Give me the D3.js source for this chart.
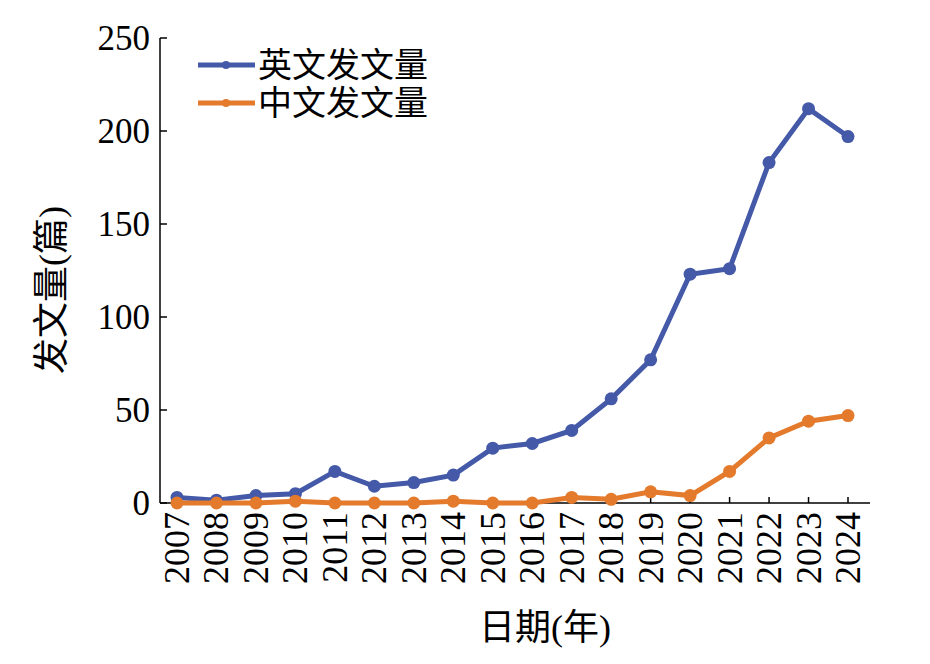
<!DOCTYPE html>
<html><head><meta charset="utf-8">
<script src="https://cdn.jsdelivr.net/npm/d3@7"></script>
<style>body{margin:0;background:#fff}</style>
</head><body>
<svg id="chart" width="930" height="664"></svg>
<script>
"use strict";

const years = [2007,2008,2009,2010,2011,2012,2013,2014,2015,2016,2017,2018,2019,2020,2021,2022,2023,2024];
const english = [3,1.5,4,5,17,9,11,15,29.5,32,39,56,77,123,126,183,212,197];
const chinese = [0,0,0,1,0,0,0,1,0,0,3,2,6,4,17,35,44,47];
const yTicks = [0,50,100,150,200,250];

const serif = "'Liberation Serif','Noto Sans CJK SC',serif";
const blue = "#4459a7";
const orange = "#e47a2c";

const svg = d3.select("#chart");

const x = d3.scaleLinear().domain([2007, 2024]).range([177, 848]);
const y = d3.scaleLinear().domain([0, 250]).range([503, 38]);

// axes
svg.append("line").attr("x1", 160).attr("x2", 160).attr("y1", 38).attr("y2", 503)
    .attr("stroke", "#000").attr("stroke-width", 1.5);
svg.append("line").attr("x1", 160).attr("x2", 870).attr("y1", 503).attr("y2", 503)
    .attr("stroke", "#000").attr("stroke-width", 1.5);

svg.selectAll(".yt").data(yTicks).enter().append("line")
    .attr("x1", 160).attr("x2", 167)
    .attr("y1", d => y(d)).attr("y2", d => y(d))
    .attr("stroke", "#000").attr("stroke-width", 1.5);
svg.selectAll(".yl").data(yTicks).enter().append("text")
    .attr("x", 150).attr("y", d => y(d)).attr("dy", "0.35em")
    .attr("text-anchor", "end").attr("font-family", serif).attr("font-size", 35)
    .text(d => d);

svg.selectAll(".xt").data(years).enter().append("line")
    .attr("x1", d => x(d)).attr("x2", d => x(d))
    .attr("y1", 503).attr("y2", 497)
    .attr("stroke", "#000").attr("stroke-width", 1.5);
svg.selectAll(".xl").data(years).enter().append("text")
    .attr("transform", d => `translate(${x(d) + 12},512) rotate(-90)`)
    .attr("text-anchor", "end").attr("font-family", serif).attr("font-size", 36)
    .text(d => d);

svg.append("text").attr("x", 545).attr("y", 640).attr("text-anchor", "middle")
    .attr("font-family", serif).attr("font-size", 36).text("日期(年)");
svg.append("text").attr("transform", "translate(64,290) rotate(-90)")
    .attr("text-anchor", "middle").attr("font-family", serif).attr("font-size", 36)
    .text("发文量(篇)");

function series(vals, color) {
    const line = d3.line().x((d, i) => x(years[i])).y(d => y(d));
    svg.append("path").datum(vals).attr("d", line)
        .attr("fill", "none").attr("stroke", color).attr("stroke-width", 5);
    svg.append("g").selectAll("circle").data(vals).enter().append("circle")
        .attr("cx", (d, i) => x(years[i])).attr("cy", d => y(d)).attr("r", 6.5)
        .attr("fill", color);
}
series(english, blue);
series(chinese, orange);

// legend
const legend = [["英文发文量", blue], ["中文发文量", orange]];
legend.forEach(([name, c], i) => {
    const ly = 65 + i * 38;
    svg.append("line").attr("x1", 198).attr("x2", 255).attr("y1", ly).attr("y2", ly)
        .attr("stroke", c).attr("stroke-width", 5);
    svg.append("circle").attr("cx", 226).attr("cy", ly).attr("r", 4).attr("fill", c);
    svg.append("text").attr("x", 258).attr("y", ly).attr("dy", "0.35em")
        .attr("font-family", serif).attr("font-size", 34).text(name);
});
</script>
</body></html>
